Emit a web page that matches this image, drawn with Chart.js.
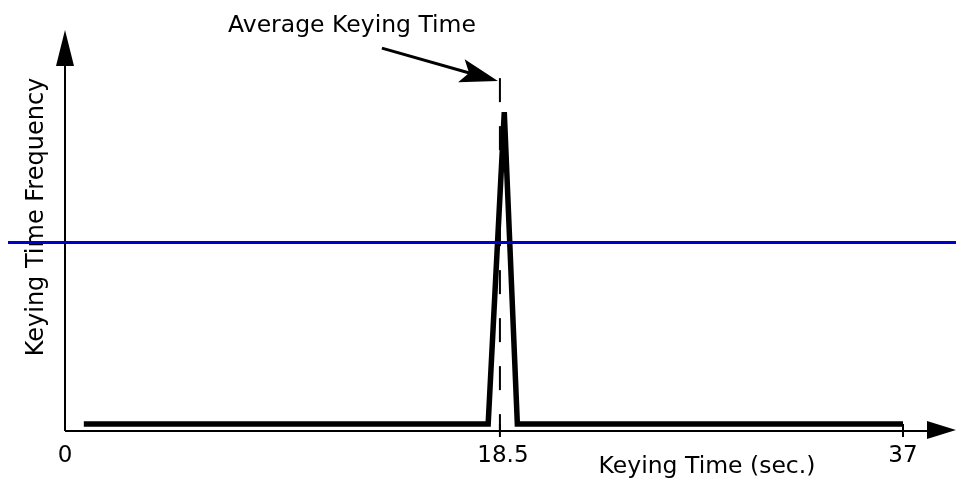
<!DOCTYPE html>
<html>
<head>
<meta charset="utf-8">
<title>Keying Time Frequency</title>
<script src="https://cdn.jsdelivr.net/npm/chart.js@4.4.1/dist/chart.umd.min.js"></script>
<style>
    html, body { margin: 0; padding: 0; background: #fff; }
    #wrap { width: 956px; height: 481px; }
</style>
</head>
<body>
<div id="wrap"><canvas id="keying-chart" width="956" height="481"></canvas></div>
<script>
// Datos
var timeValues = [0.8, 18.0, 18.7, 19.3, 37];
var frequencyValues = [1.75, 1.75, 79.5, 1.75, 1.75];
var averageTime = [18.5, 18.5];
var averageLine = [88, 0];
var thresholdLevel = [47];
var xTickValues = [0, 18.5, 37];
var xTickLabels = ['0', '18.5', '37'];

var averageLabel = 'Average Keying Time';
var xTitle = 'Keying Time (sec.)';
var yTitle = 'Keying Time Frequency';

var FONT = '"DejaVu Sans", Verdana, sans-serif';

/**
 * Escala lineal "doblada": el valor medio cae en una fraccion fija del eje
 * (el dibujo original no esta a escala)
 */
class BentScale extends Chart.LinearScale {
    getPixelForValue(value) {
        var mid = this.options.mid;
        var f = this.options.midFraction;
        var dec;
        if (value <= mid) {
            dec = (value - this.min) / (mid - this.min) * f;
        } else {
            dec = f + (value - mid) / (this.max - mid) * (1 - f);
        }
        return this.getPixelForDecimal(dec);
    }
    getValueForPixel(pixel) {
        var mid = this.options.mid;
        var f = this.options.midFraction;
        var dec = this.getDecimalForPixel(pixel);
        if (dec <= f) return this.min + dec / f * (mid - this.min);
        return mid + (dec - f) / (1 - f) * (this.max - mid);
    }
}
BentScale.id = 'bent';
BentScale.defaults = Chart.LinearScale.defaults;
Chart.register(BentScale);

function toPoints(xs, ys) {
    return xs.map(function(x, i) { return { x: x, y: ys[i] }; });
}

function arrowHead(ctx, tipX, tipY, angle, len, half, notch) {
    ctx.save();
    ctx.translate(tipX, tipY);
    ctx.rotate(angle);
    ctx.beginPath();
    ctx.moveTo(0, 0);
    ctx.lineTo(-len, -half);
    ctx.lineTo(-len + (notch || 0), 0);
    ctx.lineTo(-len, half);
    ctx.closePath();
    ctx.fill();
    ctx.restore();
}

// Ejes con flechas, marcas y titulos
var axesPlugin = {
    id: 'diagramAxes',
    beforeDatasetsDraw: function(chart) {
        var ctx = chart.ctx;
        var area = chart.chartArea;
        var xs = chart.scales.x;
        var W = chart.width;

        ctx.save();
        ctx.strokeStyle = '#000';
        ctx.fillStyle = '#000';
        ctx.lineWidth = 2;

        // eje Y
        ctx.beginPath();
        ctx.moveTo(area.left, area.bottom);
        ctx.lineTo(area.left, area.top + 34);
        ctx.stroke();
        arrowHead(ctx, area.left, area.top, -Math.PI / 2, 36, 9);

        // eje X
        ctx.beginPath();
        ctx.moveTo(area.left, area.bottom);
        ctx.lineTo(W - 28, area.bottom);
        ctx.stroke();
        arrowHead(ctx, W, area.bottom - 1, 0, 29, 9);

        // marcas
        xTickValues.forEach(function(v) {
            if (v === xs.min) return;
            var px = xs.getPixelForValue(v);
            ctx.beginPath();
            ctx.moveTo(px, area.bottom - 7);
            ctx.lineTo(px, area.bottom + 6);
            ctx.stroke();
        });

        // etiquetas
        ctx.font = '23px ' + FONT;
        ctx.textAlign = 'center';
        ctx.textBaseline = 'alphabetic';
        xTickValues.forEach(function(v, i) {
            ctx.fillText(xTickLabels[i], xs.getPixelForValue(v) + (i === 1 ? 3 : 0), area.bottom + 31);
        });

        ctx.font = '23.5px ' + FONT;
        ctx.fillText(xTitle, 707, 473);
        ctx.fillText(averageLabel, 352, 32);

        ctx.save();
        ctx.translate(43, 217);
        ctx.rotate(-Math.PI / 2);
        ctx.font = '24px ' + FONT;
        ctx.fillText(yTitle, 0, 0);
        ctx.restore();

        ctx.restore();
    },
    afterDatasetsDraw: function(chart) {
        var ctx = chart.ctx;
        var xs = chart.scales.x;
        var ys = chart.scales.y;

        ctx.save();
        // linea azul horizontal
        var by = ys.getPixelForValue(thresholdLevel[0]);
        ctx.strokeStyle = '#0000cc';
        ctx.lineWidth = 3;
        ctx.beginPath();
        ctx.moveTo(8, by);
        ctx.lineTo(chart.width, by);
        ctx.stroke();

        // flecha de la anotacion
        var tipX = xs.getPixelForValue(averageTime[0]) - 2;
        var tipY = ys.getPixelForValue(averageLine[0]) + 3;
        var tailX = tipX - 116;
        var tailY = tipY - 33;
        var ang = Math.atan2(tipY - tailY, tipX - tailX);
        ctx.strokeStyle = '#000';
        ctx.fillStyle = '#000';
        ctx.lineWidth = 3;
        ctx.beginPath();
        ctx.moveTo(tailX, tailY);
        ctx.lineTo(tipX - 26 * Math.cos(ang), tipY - 26 * Math.sin(ang));
        ctx.stroke();
        arrowHead(ctx, tipX, tipY, ang, 38, 12, 8);
        ctx.restore();
    }
};

var ctx = document.getElementById('keying-chart');
var keyingChart = new Chart(ctx, {
    type: 'line',
    data: {
        datasets: [{
            label: 'Frecuencia',
            data: toPoints(timeValues, frequencyValues),
            borderColor: '#000',
            borderWidth: 5.5,
            pointRadius: 0,
            tension: 0,
            fill: false
        }, {
            label: 'Promedio',
            data: toPoints(averageTime, averageLine),
            borderColor: '#000',
            borderWidth: 2,
            borderDash: [24, 24],
            pointRadius: 0,
            tension: 0,
            fill: false
        }]
    },
    options: {
        responsive: false,
        animation: false,
        devicePixelRatio: 1,
        layout: {
            padding: { left: 65, right: 53, top: 30, bottom: 50 }
        },
        scales: {
            x: {
                type: 'bent',
                min: 0,
                max: 37,
                mid: 18.5,
                midFraction: 0.519,
                display: false,
                afterBuildTicks: function(scale) {
                    scale.ticks = xTickValues.map(function(v) { return { value: v }; });
                }
            },
            y: {
                type: 'linear',
                min: 0,
                max: 100,
                display: false
            }
        },
        plugins: {
            legend: { display: false },
            tooltip: { enabled: false }
        }
    },
    plugins: [axesPlugin]
});
</script>
</body>
</html>
